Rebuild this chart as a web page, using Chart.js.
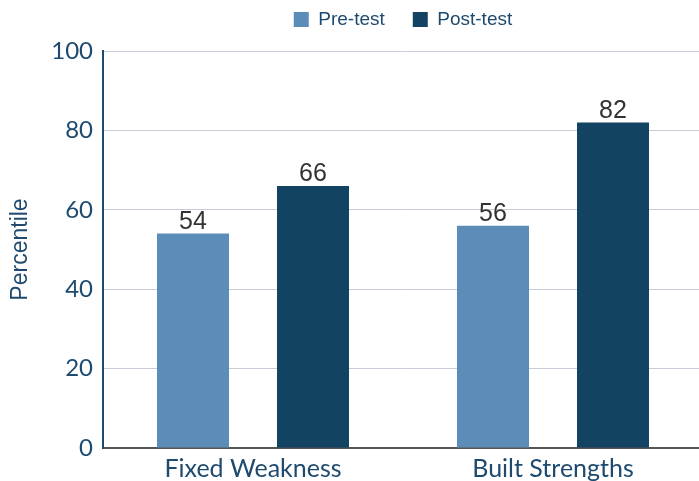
<!DOCTYPE html>
<html>
<head>
<meta charset="utf-8">
<script src="https://cdn.jsdelivr.net/npm/chart.js@4/dist/chart.umd.min.js"></script>
<style>
  html, body { margin: 0; padding: 0; background: #fff; overflow: hidden; }
  #wrap { width: 705px; height: 481px; }
</style>
</head>
<body>
<div id="wrap"><canvas id="chart"></canvas></div>
<script>
// Chart data
var categories = ['Fixed Weakness', 'Built Strengths'];
var preTest = [54, 56];
var postTest = [66, 82];
var yTicks = [0, 20, 40, 60, 80, 100];

var navy = '#1d4a6e';

// Draws the value above each bar
var valueLabels = {
    id: 'valueLabels',
    afterInit: function(chart) {
        // give the legend a little more room below it
        var fit = chart.legend.fit;
        chart.legend.fit = function() { fit.call(this); this.height += 12; };
    },
    afterDatasetsDraw: function(chart) {
        var ctx = chart.ctx;
        ctx.save();
        ctx.fillStyle = '#333333';
        ctx.font = '25px "Liberation Sans", Arial, sans-serif';
        ctx.textAlign = 'center';
        ctx.textBaseline = 'bottom';
        chart.data.datasets.forEach(function(ds, i) {
            chart.getDatasetMeta(i).data.forEach(function(bar, j) {
                ctx.fillText(ds.data[j], bar.x, bar.y + 1);
            });
        });
        ctx.restore();
    }
};

new Chart(document.getElementById('chart'), {
    type: 'bar',
    data: {
        labels: categories,
        datasets: [
            {label: 'Pre-test', data: preTest, backgroundColor: '#5b8db8'},
            {label: 'Post-test', data: postTest, backgroundColor: '#134362'}
        ]
    },
    options: {
        responsive: true,
        maintainAspectRatio: false,
        animation: false,
        categoryPercentage: 0.8,
        barPercentage: 0.6,
        layout: {padding: {top: -18, right: 2}},
        plugins: {
            legend: {
                position: 'top',
                fullSize: false,
                labels: {
                    boxWidth: 15,
                    boxHeight: 15,
                    padding: 28,
                    color: navy,
                    font: {family: '"Liberation Sans", Arial, sans-serif', size: 19}
                }
            },
            tooltip: {enabled: false}
        },
        scales: {
            x: {
                grid: {display: false},
                border: {color: '#555555', width: 2},
                ticks: {color: navy, padding: -2, font: {family: 'Lato, sans-serif', size: 25}},
                afterFit: function(s) { s.height = 33; }
            },
            y: {
                min: 0,
                max: 100,
                afterBuildTicks: function(s) { s.ticks = yTicks.map(function(v) { return {value: v}; }); },
                grid: {color: '#c6cdd6', lineWidth: 1, drawTicks: false},
                border: {color: navy, width: 2},
                ticks: {color: navy, padding: 10, font: {family: 'Lato, sans-serif', size: 24}},
                title: {display: true, text: 'Percentile', color: navy, padding: {top: 7, bottom: 10}, font: {family: '"Liberation Sans", Arial, sans-serif', size: 23}},
                afterFit: function(s) { s.width = 103; }
            }
        }
    },
    plugins: [valueLabels]
});
</script>
</body>
</html>
